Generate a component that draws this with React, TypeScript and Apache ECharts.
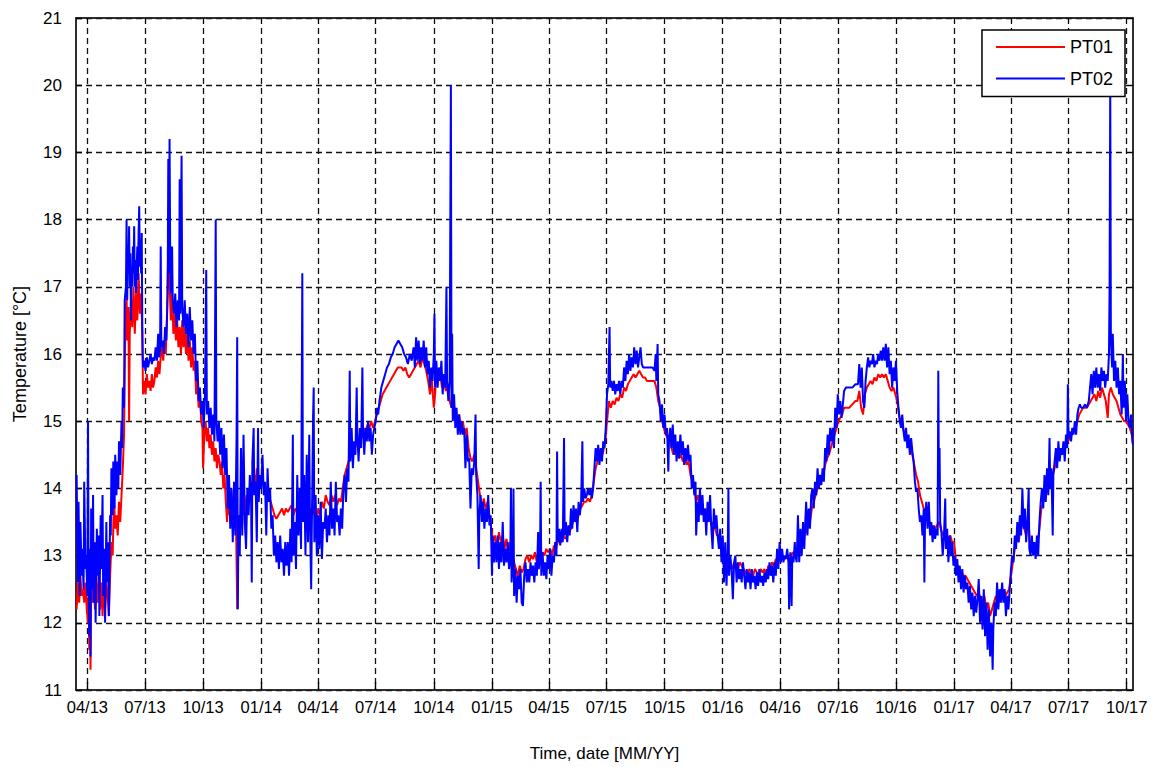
import React, { useEffect, useRef } from "react";
import * as echarts from "echarts";

// x = days since 2013-04-01
const tickDays = [0, 91, 183, 275, 365, 456, 548, 640, 730, 821, 913, 1005, 1096, 1187, 1279, 1371, 1461, 1552, 1644];
const tickLabels = ["04/13", "07/13", "10/13", "01/14", "04/14", "07/14", "10/14", "01/15", "04/15", "07/15", "10/15", "01/16", "04/16", "07/16", "10/16", "01/17", "04/17", "07/17", "10/17"];

const pt02: number[][] = [
  [-17,14.2],[-15,12.6],[-14,13.8],[-12,12.4],[-11,13.5],[-9,12.7],[-8,13.1],[-6,12.5],[-5,14.1],[-3,12.8],[-2,13.0],[0,12.4],[1,15.0],[2,12.6],[3,11.8],[4,13.1],[5,11.5],[6,13.7],[7,12.5],[9,13.9],[10,12.3],[12,13.2],[13,12.0],[15,13.4],[16,12.7],[18,13.3],[19,12.1],[21,13.6],[22,12.8],[24,13.9],[25,12.4],[27,13.1],[28,12.0],[30,13.5],[31,12.6],[33,13.2],[34,12.1],[36,13.6],[37,13.3],[38,14.3],[40,13.6],[41,14.4],[43,13.7],[44,14.5],[46,13.9],[47,14.4],[49,14.0],[50,14.7],[52,14.2],[54,15.0],[55,14.6],[56,15.5],[58,15.2],[59,16.8],
  [61,17.0],[62,18.0],[63,16.8],[64,17.6],[65,17.2],[66,17.9],[67,17.0],[68,17.5],[69,16.5],[70,17.3],[71,17.0],[72,17.6],[73,17.2],[74,17.9],[75,17.0],[76,17.4],[77,16.9],[78,17.3],[79,17.6],[80,17.1],[81,17.8],[82,18.2],[83,17.3],[84,17.7],[85,17.2],[86,17.8],[87,16.2],[88,15.8],
  [90,15.9],[92,15.75],[94,15.95],[96,15.8],[98,15.9],[100,16.0],[102,15.85],[104,15.95],[106,15.9],[108,16.1],[110,15.9],[112,16.3],[113,15.95],[115,16.05],[116,17.6],[117,16.1],[119,16.2],[121,16.0],[123,16.4],[125,16.2],[127,16.9],[128,18.9],[129,17.2],[130,19.2],[131,17.5],[132,16.9],[134,17.6],[135,16.8],[137,16.6],[139,16.9],[141,16.4],[143,16.8],[145,16.5],[146,18.6],[147,16.6],[149,18.95],[150,16.7],[152,16.4],[154,16.8],[156,16.3],[158,16.6],[160,16.1],[162,16.7],[164,16.2],[166,16.5],[168,16.0],[170,16.3],[172,15.6],[174,15.9],[176,15.3],[178,15.5],[180,15.1],[182,15.3],[184,14.9],[186,15.4],[188,17.25],[189,15.1],[191,15.3],[193,14.9],[195,15.2],[197,14.8],[199,15.1],[201,14.7],[203,18.0],[204,15.0],[206,14.7],[208,15.0],[210,14.5],[212,14.9],[214,14.3],[216,14.8],[218,14.2],[220,14.6],[222,13.7],[224,14.2],[226,13.4],[228,14.0],[230,13.2],[232,14.1],[234,13.3],[236,14.8],[237,16.25],[238,12.2],[239,13.6],[241,13.0],[243,14.6],[245,13.3],[247,14.8],[249,13.5],[251,13.1],[253,14.0],[255,13.6],[257,14.2],[259,13.8],[260,12.6],[261,14.4],[263,14.9],[264,13.9],
  [266,14.1],[268,13.2],[270,14.9],[271,13.8],[273,14.2],[275,14.0],[277,14.5],[279,13.9],[281,14.1],[283,13.3],[285,14.3],[287,13.8],[289,14.0],[291,13.4],[293,13.6],[295,13.0],[297,13.3],[299,12.9],[301,13.2],[303,12.8],[305,13.3],[307,12.9],[309,13.1],[311,12.7],[313,13.2],[315,12.85],[317,13.2],[319,12.7],[321,13.4],[323,12.9],[325,14.8],[326,13.0],[328,13.5],[330,12.8],[332,14.2],[334,13.3],[336,14.0],[338,13.1],[340,17.2],[341,13.5],[343,14.2],[345,13.0],[347,14.5],[349,13.2],[351,14.8],[352,13.6],[354,12.5],[355,13.4],[357,15.05],[358,15.5],[359,13.2],[361,13.9],[363,13.0],[365,13.6],[367,13.1],[369,13.8],[371,12.95],[373,13.5],
  [375,13.4],[377,13.7],[379,13.2],[381,13.6],[383,13.3],[385,14.1],[387,13.4],[389,13.7],[391,13.3],[393,14.1],[395,13.5],[397,13.6],[399,13.3],[401,13.7],[403,13.4],[405,14.0],[407,14.2],[409,13.8],[411,14.3],[413,14.1],[415,15.75],[416,14.4],[418,14.9],[420,14.3],[422,14.7],[424,14.5],[426,15.5],[427,14.8],[429,14.4],[431,14.9],[433,14.6],[435,15.8],[436,14.9],[438,14.5],[440,14.9],[442,14.7],[444,15.0],[446,14.7],[448,14.9],[450,14.5],[452,14.8],[454,14.9],[456,15.0],[458,15.2],[460,15.1],
  [462,15.3],[465,15.5],[468,15.6],[471,15.7],[474,15.8],[477,15.85],[480,15.95],[483,16.0],[486,16.1],[489,16.15],[492,16.2],[495,16.15],[498,16.1],[501,16.0],[504,15.95],[507,15.85],[510,16.0],[513,15.9],[516,16.1],[518,15.8],[520,16.25],[522,15.9],[524,16.2],[526,15.85],[528,16.1],[530,15.9],[532,16.2],[534,15.8],[536,16.1],[538,15.7],[540,15.9],[542,15.5],[544,15.8],[546,15.6],[548,16.0],[549,16.6],[550,15.5],[552,15.9],[554,15.5],[556,15.8],[558,15.6],[560,15.9],[562,15.4],[564,15.7],[566,15.5],[568,17.0],[569,15.6],[571,15.3],[573,15.6],[575,20.0],[576,15.2],[577,16.3],[578,15.0],[580,15.4],[582,14.9],[584,15.2],[586,14.8],[588,15.1],[590,14.8],[592,15.0],[594,14.8],[596,14.9],[598,14.3],[600,14.8],[602,14.4],[604,14.45],[606,13.7],[608,14.3],[610,14.2],[612,14.4],[614,15.1],[615,14.2],[617,13.9],[619,12.8],[620,13.6],[622,13.9],[624,13.5],[626,13.8],[628,13.4],[630,13.7],[632,13.5],[634,13.9],[636,13.45],[638,13.6],[640,12.7],[641,13.3],[643,12.9],[645,13.2],[647,12.9],[649,13.3],[651,12.8],[653,13.2],[655,12.9],[657,13.5],[659,12.85],[661,13.1],[663,12.9],[665,13.2],[667,12.8],[669,13.0],[670,14.0],[671,12.6],[673,12.9],[674,14.0],[675,12.4],[677,12.8],[679,12.3],[681,12.7],[683,12.5],[685,12.8],[687,12.3],[689,12.25],[691,12.7],[693,12.9],[695,12.6],[697,12.8],[699,12.6],[701,12.9],[703,12.7],[705,12.85],[707,12.6],[709,12.9],[711,12.7],[713,13.35],[714,12.8],[716,13.0],[717,14.1],[718,12.7],[720,13.05],[722,12.7],[724,12.9],[726,12.65],[728,13.0],[730,12.8],[732,13.1],[734,12.7],[736,13.0],[738,12.9],[740,13.2],[742,13.0],[743,14.55],[744,13.2],[746,13.4],[748,13.15],[750,13.4],[752,13.2],[754,14.75],[755,13.3],[757,13.5],[759,13.2],[761,13.45],[763,13.3],[765,13.7],[767,13.4],[769,13.75],[771,13.5],[773,13.7],[775,13.35],[777,13.8],[779,13.6],[781,13.8],[783,14.7],[784,13.8],[786,14.0],[788,13.85],[790,13.9],[792,14.0],[794,13.9],[796,14.0],[798,13.85],[800,14.0],[802,14.3],[804,14.6],[806,14.4],[808,14.65],[810,14.35],[812,14.6],[814,14.4],[816,14.7],[818,14.6],[820,14.9],[822,15.4],[824,15.55],[826,16.4],[827,15.5],[829,15.6],
  [831,15.45],[833,15.6],[835,15.4],[837,15.55],[839,15.45],[841,15.6],[843,15.4],[845,15.6],[847,15.5],[849,15.8],[851,15.6],[853,15.9],[855,15.7],[857,16.0],[859,15.75],[861,15.95],[863,15.8],[865,16.1],[867,15.85],[869,16.05],[871,15.8],[873,15.95],[875,16.1],[877,15.85],[879,15.8],[882,15.8],[885,15.8],[888,15.8],[891,15.8],[894,15.8],[897,15.75],[899,16.0],[900,15.6],[902,16.15],[903,15.4],[905,15.3],[907,15.0],[909,15.25],[911,14.9],[913,15.1],[915,14.8],[917,14.9],[919,14.25],[920,14.7],[922,14.9],[924,14.6],[926,14.95],[928,14.5],[930,14.8],[932,14.4],[934,14.7],[936,14.45],[938,14.8],[940,14.5],[942,14.7],[944,14.35],[946,14.6],[948,14.4],[950,14.65],[952,14.4],[954,14.5],[956,14.0],[958,14.2],[960,13.9],[962,14.1],[963,13.3],[965,13.8],[967,13.5],[969,14.0],[971,13.6],[973,13.9],[975,13.5],[977,13.7],[979,13.3],[981,13.8],[983,13.5],[985,13.9],[987,13.4],[989,13.1],[991,13.7],[993,13.4],[995,13.6],[997,13.3],[999,13.1],[1001,13.4],[1003,12.9],[1005,13.3],[1007,12.6],[1009,13.2],[1011,12.55],[1013,13.1],[1014,14.0],[1015,12.7],[1017,13.0],[1019,12.8],[1021,12.35],[1023,12.9],[1025,13.0],[1027,12.6],[1029,12.9],[1031,12.65],[1033,12.8],[1035,12.6],[1037,12.9],[1039,12.7],[1041,12.5],[1043,12.8],[1045,12.6],[1047,12.75],[1049,12.5],[1051,12.8],[1053,12.6],[1055,12.7],[1057,12.5],[1059,12.75],[1061,12.55],[1063,12.8],[1065,12.6],[1067,12.7],[1069,12.55],[1071,12.75],[1073,12.6],[1075,12.8],[1077,12.65],[1079,12.9],[1081,12.7],[1083,12.85],[1085,12.6],[1087,12.9],[1089,12.7],[1091,13.1],[1093,12.8],[1095,13.2],[1097,12.9],[1099,13.1],[1101,12.9],[1103,13.0],[1105,12.95],[1107,13.1],[1109,12.9],[1110,12.2],[1112,13.05],[1114,12.25],[1115,13.0],[1117,12.9],[1119,13.2],[1120,13.0],[1122,12.9],
  [1124,13.6],[1126,12.9],[1128,13.4],[1130,13.0],[1132,13.5],[1134,13.1],[1136,13.6],[1137,13.8],[1139,13.3],[1141,13.7],[1143,13.4],[1145,13.9],[1147,14.0],[1149,13.7],[1151,14.1],[1153,13.9],[1155,14.3],[1157,14.0],[1159,14.2],[1161,14.05],[1163,14.3],[1165,14.1],[1167,14.6],[1169,14.4],[1171,14.8],[1173,14.5],[1175,14.9],[1177,14.7],[1179,14.9],[1181,14.6],[1183,15.2],[1185,14.9],[1187,15.4],[1189,15.1],[1191,15.3],[1193,15.05],[1195,15.25],[1197,15.45],[1200,15.5],[1205,15.5],[1210,15.5],[1215,15.55],[1219,15.55],[1221,15.85],[1223,15.5],[1225,15.8],[1227,15.3],[1229,15.2],[1231,15.6],[1233,15.8],[1235,15.95],[1237,15.8],[1239,15.9],[1241,15.85],[1243,16.0],[1245,15.8],[1247,15.9],[1249,15.85],[1251,16.0],[1253,15.9],[1255,16.05],[1257,15.9],[1259,16.1],[1261,15.9],[1263,16.15],[1265,15.8],[1267,16.1],[1269,15.7],[1271,15.9],[1273,15.5],[1275,15.8],[1277,15.6],[1279,15.9],[1281,15.45],[1283,15.2],[1285,15.0],[1287,14.9],[1289,15.1],[1291,14.85],[1293,14.7],[1295,14.9],[1297,14.6],[1299,14.8],[1301,14.5],[1303,14.75],[1305,14.55],[1307,14.4],[1309,14.1],[1311,13.95],[1313,14.0],[1315,13.7],[1317,13.5],[1319,13.6],[1321,13.3],[1323,13.7],[1324,12.6],[1325,13.5],[1327,13.8],[1329,13.4],[1331,13.8],[1333,13.3],[1335,13.5],[1337,13.2],[1339,13.45],[1341,13.25],[1343,13.4],[1345,13.3],[1346,15.75],[1347,14.0],[1348,14.6],[1349,13.5],[1351,13.35],[1353,13.0],[1355,13.3],[1357,13.85],[1358,13.1],[1360,13.4],[1362,12.9],[1364,13.3],[1366,13.0],[1368,13.2],[1370,12.85],[1372,13.0],
  [1374,12.7],[1376,12.95],[1378,12.6],[1380,12.85],[1382,12.5],[1384,12.8],[1386,12.45],[1388,12.7],[1390,12.5],[1392,12.6],[1394,12.3],[1396,12.55],[1398,12.2],[1400,12.45],[1402,12.1],[1404,12.4],[1406,12.15],[1408,12.35],[1410,12.65],[1412,12.0],[1414,12.4],[1416,11.9],[1418,12.5],[1420,11.8],[1422,12.3],[1424,11.6],[1426,12.2],[1428,11.5],[1430,12.0],[1432,11.3],[1433,11.9],[1435,12.3],[1437,12.1],[1439,12.6],[1441,12.2],[1443,12.5],[1445,12.3],[1447,12.6],[1449,12.3],[1451,12.5],[1453,12.1],[1455,12.4],[1457,12.2],[1459,12.5],[1461,12.8],[1463,13.0],[1465,12.9],[1467,13.3],[1469,13.1],[1471,13.5],[1473,13.2],[1475,13.6],[1477,13.3],[1479,14.0],[1481,13.4],[1483,13.7],[1485,13.2],[1487,13.5],[1489,14.0],[1490,13.1],[1492,13.0],[1494,13.3],[1496,13.0],[1498,13.2],[1500,12.95],[1502,13.3],[1504,13.0],[1506,13.5],[1508,13.8],[1510,14.0],[1512,13.7],[1514,14.2],[1516,13.8],[1518,14.3],[1520,13.9],[1522,14.75],[1523,14.0],[1525,14.3],[1527,13.3],[1528,14.2],[1530,14.4],[1532,14.6],[1534,14.3],[1536,14.7],[1538,14.4],[1540,14.6],[1542,14.5],[1544,14.7],[1546,14.4],[1548,14.8],[1550,14.6],[1551,15.55],[1552,14.75],[1554,14.85],[1556,14.7],[1558,14.9],[1560,14.8],[1562,15.0],[1564,14.8],[1566,15.1],[1568,15.2],[1570,15.25],[1572,15.2],[1575,15.2],[1578,15.25],[1581,15.2],[1584,15.3],[1586,15.5],[1588,15.7],[1590,15.4],[1592,15.75],[1594,15.5],[1596,15.8],[1598,15.5],[1600,15.7],[1602,15.45],[1604,15.8],[1606,15.6],[1608,15.75],[1610,15.5],[1612,15.7],[1614,15.6],[1616,16.0],[1617,17.0],[1618,20.05],[1619,16.2],[1621,15.8],[1622,16.3],[1624,15.6],[1626,15.9],[1628,15.5],[1630,15.8],[1632,15.4],[1634,15.6],[1636,15.1],[1638,16.0],[1639,15.2],[1641,15.6],[1643,15.0],[1645,15.4],[1647,15.0],[1649,14.9],[1651,15.1],[1653,14.7],[1654,14.65]
];

const pt01: number[][] = [
  [-17,12.2],[-15,12.6],[-13,12.3],[-11,12.7],[-9,12.4],[-7,12.5],[-5,12.3],[-3,12.6],[-1,12.2],[1,12.0],[2,12.5],[3,11.6],[4,12.2],[5,11.3],[6,12.6],[8,12.3],[10,12.7],[12,12.2],[14,12.6],[16,12.3],[18,12.8],[20,12.2],[22,12.6],[24,12.1],[26,12.5],[28,12.2],[30,12.6],[32,12.4],[34,12.1],[36,12.7],[38,13.2],[40,13.0],[42,13.9],[44,13.4],[46,13.6],[48,13.3],[50,13.8],[52,13.5],[54,13.9],[56,14.3],[58,14.8],[60,16.4],[62,16.9],[63,16.2],[65,16.7],[66,15.0],[67,16.3],[69,16.8],[71,16.4],[73,17.0],[75,16.3],[77,16.9],[79,16.5],[81,17.2],[83,16.6],[85,16.9],[87,16.3],[88,15.4],[90,15.6],[92,15.4],[94,15.7],[96,15.5],[98,15.6],[100,15.45],[102,15.7],[104,15.5],[106,15.6],[108,15.8],[110,15.65],[112,15.9],[114,15.7],[116,15.95],[118,16.1],[120,15.9],[122,16.2],[124,16.0],[126,16.6],[128,17.6],[130,17.1],[132,16.5],[134,16.9],[136,16.3],[138,16.6],[140,16.2],[142,16.5],[144,16.1],[146,16.4],[148,16.0],[150,16.5],[152,16.1],[154,16.4],[156,16.0],[158,16.3],[160,15.9],[162,16.2],[164,15.8],[166,16.1],[168,15.75],[170,15.9],[172,15.4],[174,15.6],[176,15.2],[178,15.4],[180,15.0],[182,14.9],[183,14.3],[185,14.8],[187,15.0],[189,14.7],[191,14.9],[193,14.6],[195,14.8],[197,14.5],[199,14.7],[201,14.4],[203,14.6],[205,14.3],[207,14.5],[209,14.4],[211,14.2],[213,14.4],[215,14.0],[217,14.2],[219,13.8],[221,13.5],[223,13.9],[225,13.6],[227,13.8],[229,13.5],[231,13.7],[233,13.5],[235,13.6],[237,12.2],[238,13.3],[240,13.6],[242,13.4],[244,13.8],[246,13.6],[248,13.9],[250,13.6],[252,13.9],[254,13.7],[256,14.0],[258,13.8],[260,14.1],[262,14.0],[264,14.2],[266,14.0],[268,14.3],[270,14.1],[272,14.2],
  [275,14.05],[278,14.1],[281,14.0],[284,13.95],[287,13.9],[290,13.8],[293,13.7],[296,13.6],[299,13.55],[302,13.6],[305,13.65],[308,13.7],[311,13.6],[314,13.7],[317,13.65],[320,13.7],[323,13.75],[326,13.6],[329,13.7],[332,13.65],[335,13.8],[338,13.5],[341,13.7],[344,13.6],[347,13.8],[350,13.5],[353,13.7],[356,13.6],[359,13.75],[362,13.5],[365,13.7],[368,13.6],[371,13.8],[374,13.7],[377,13.9],[380,13.8],[383,13.75],[386,13.9],[389,13.8],[392,13.9],[395,13.75],[398,13.85],[401,13.8],[404,14.0],[407,14.2],[410,14.3],[413,14.4],[416,14.5],[419,14.6],[422,14.55],[425,14.7],[428,14.6],[431,14.8],[434,14.75],[437,14.9],[440,14.8],[443,14.95],[446,14.9],[449,15.0],[452,14.9],[455,15.0],[458,15.1],[461,15.2],[464,15.3],[467,15.4],[470,15.45],[473,15.5],[476,15.55],[479,15.6],[482,15.65],[485,15.7],[488,15.75],[491,15.8],[494,15.8],[497,15.8],[500,15.75],[503,15.8],[506,15.7],[509,15.65],[512,15.7],[515,15.75],[518,15.8],[521,15.85],[524,15.9],[527,15.8],[530,15.95],[533,15.85],[536,15.75],[539,15.6],[542,15.4],[545,15.6],[548,15.2],[550,15.4],[552,15.7],[555,15.6],[558,15.7],[561,15.5],[564,15.6],[567,15.45],[570,15.55],[573,15.3],[576,15.2],[579,15.3],[582,15.1],[585,15.0],[588,15.1],[591,14.9],[594,15.0],[597,14.8],[600,14.9],[603,14.6],[606,14.45],[609,14.4],[612,14.5],[615,14.3],[618,14.1],[621,13.9],[624,13.7],[627,13.85],[630,13.7],[633,13.8],[636,13.6],[639,13.4],[642,13.2],[645,13.3],[648,13.1],[651,13.35],[654,13.2],[657,13.3],[660,13.1],[663,13.25],[666,13.05],[669,13.2],[672,13.0],[675,12.9],[678,12.8],[681,12.7],[684,12.85],[687,12.75],[690,12.8],[693,12.95],[696,13.0],[699,12.9],[702,13.0],[705,12.95],[708,13.05],[711,12.9],[714,13.0],[717,12.95],[720,13.05],[723,13.0],[726,13.1],[729,13.05],[732,13.1],[735,13.0],[738,13.15],[741,13.1],[744,13.2],[747,13.25],[750,13.2],[753,13.3],[756,13.25],[759,13.3],[762,13.35],[765,13.4],[768,13.5],[771,13.55],[774,13.5],[777,13.6],[780,13.7],[783,13.75],[786,13.8],[789,13.8],[792,13.85],[795,13.8],[798,13.9],[801,14.1],[804,14.3],[807,14.4],[810,14.5],[813,14.45],[816,14.55],[819,14.7],[822,15.0],[825,15.3],[828,15.2],
  [831,15.3],[834,15.25],[837,15.35],[840,15.3],[843,15.4],[846,15.35],[849,15.5],[852,15.45],[855,15.55],[858,15.6],[861,15.65],[864,15.7],[867,15.65],[870,15.7],[873,15.75],[876,15.7],[879,15.65],[882,15.65],[885,15.6],[888,15.6],[891,15.6],[894,15.6],[897,15.6],[900,15.5],[903,15.3],[906,15.2],[909,15.0],[912,14.9],[915,14.8],[918,14.75],[921,14.8],[924,14.6],[927,14.5],[930,14.6],[933,14.5],[936,14.45],[939,14.5],[942,14.4],[945,14.45],[948,14.35],[951,14.4],[954,14.2],[957,14.1],[960,14.0],[963,13.8],[966,13.9],[969,13.7],[972,13.8],[975,13.6],[978,13.7],[981,13.5],[984,13.6],[987,13.45],[990,13.5],[993,13.4],[996,13.3],[999,13.3],[1002,13.2],[1005,13.1],[1008,13.0],[1011,12.9],[1014,13.0],[1017,12.9],[1020,12.8],[1023,12.9],[1026,12.85],[1029,12.8],[1032,12.9],[1035,12.85],[1038,12.8],[1041,12.75],[1044,12.7],[1047,12.8],[1050,12.75],[1053,12.7],[1056,12.8],[1059,12.75],[1062,12.7],[1065,12.8],[1068,12.75],[1071,12.8],[1074,12.7],[1077,12.85],[1080,12.8],[1083,12.9],[1086,12.85],[1089,12.95],[1092,12.9],[1095,13.0],[1098,12.95],[1101,13.0],[1104,12.95],[1107,13.0],[1110,12.9],[1113,13.0],[1116,13.05],[1119,13.0],[1122,13.1],[1125,13.05],[1128,13.2],[1131,13.15],[1134,13.3],[1137,13.35],[1140,13.45],[1143,13.5],[1146,13.7],[1149,13.8],[1152,13.9],[1155,14.0],[1158,14.05],[1161,14.1],[1164,14.2],[1167,14.35],[1170,14.45],[1173,14.5],[1176,14.6],[1179,14.7],[1182,14.8],[1185,14.9],[1188,15.0],[1191,15.05],[1194,15.1],[1197,15.2],[1200,15.2],[1205,15.2],[1210,15.25],[1215,15.3],[1218,15.3],[1221,15.45],[1224,15.2],[1227,15.1],[1230,15.4],[1233,15.5],[1236,15.55],[1239,15.6],[1242,15.55],[1245,15.65],[1248,15.6],[1251,15.7],[1254,15.65],[1257,15.7],[1260,15.65],[1263,15.7],[1266,15.6],[1269,15.5],[1272,15.45],[1275,15.5],[1278,15.4],[1281,15.3],[1284,15.1],[1287,14.95],[1290,14.9],[1293,14.8],[1296,14.75],[1299,14.65],[1302,14.6],[1305,14.5],[1308,14.35],[1311,14.2],[1314,14.1],[1317,13.9],[1320,13.8],[1323,13.7],[1326,13.6],[1329,13.55],[1332,13.5],[1335,13.45],[1338,13.4],[1341,13.4],[1344,13.45],[1347,13.5],[1350,13.4],[1353,13.3],[1356,13.35],[1359,13.3],[1362,13.25],[1365,13.3],[1368,13.2],[1371,13.2],
  [1374,12.9],[1377,12.85],[1380,12.8],[1383,12.75],[1386,12.7],[1389,12.7],[1392,12.65],[1395,12.6],[1398,12.55],[1401,12.5],[1404,12.45],[1407,12.4],[1410,12.45],[1413,12.35],[1416,12.3],[1419,12.4],[1422,12.2],[1425,12.3],[1428,12.1],[1431,12.2],[1434,12.3],[1437,12.4],[1440,12.3],[1443,12.45],[1446,12.4],[1449,12.5],[1452,12.4],[1455,12.45],[1458,12.5],[1461,12.7],[1464,12.9],[1467,13.1],[1470,13.3],[1473,13.2],[1476,13.4],[1479,13.5],[1482,13.4],[1485,13.3],[1488,13.6],[1491,13.2],[1494,13.1],[1497,13.2],[1500,13.05],[1503,13.2],[1506,13.4],[1509,13.7],[1512,13.8],[1515,13.9],[1518,14.0],[1521,14.1],[1524,14.2],[1527,14.2],[1530,14.3],[1533,14.4],[1536,14.5],[1539,14.5],[1542,14.55],[1545,14.6],[1548,14.65],[1551,14.7],[1554,14.75],[1557,14.8],[1560,14.85],[1563,14.9],[1566,15.0],[1569,15.1],[1572,15.15],[1575,15.2],[1578,15.2],[1581,15.2],[1584,15.25],[1587,15.3],[1590,15.35],[1593,15.4],[1596,15.3],[1599,15.45],[1602,15.35],[1605,15.5],[1608,15.4],[1611,15.3],[1614,15.05],[1616,15.4],[1619,15.5],[1622,15.4],[1625,15.35],[1628,15.3],[1631,15.2],[1634,15.1],[1637,15.05],[1640,15.0],[1643,15.0],[1646,14.95],[1649,14.9],[1652,14.8],[1654,14.7]
];

const FONT = "Liberation Sans, Arial, sans-serif";
const dash = [6, 4];

export default function App() {
  const ref = useRef<HTMLDivElement>(null);
  useEffect(() => {
    if (!ref.current) return;
    const chart = echarts.init(ref.current, undefined, { renderer: "svg" });
    const labelFor = (v: number) => {
      const i = tickDays.indexOf(Math.round(v));
      return i >= 0 ? tickLabels[i] : "";
    };
    chart.setOption({
      animation: false,
      backgroundColor: "#fff",
      textStyle: { fontFamily: FONT },
      grid: { left: 76, right: 19, top: 18, bottom: 77, show: true, borderColor: "#222", borderWidth: 1.5, backgroundColor: "transparent" },
      legend: {
        orient: "vertical",
        right: 27,
        top: 30,
        backgroundColor: "#fff",
        borderColor: "#000",
        borderWidth: 1.5,
        borderRadius: 0,
        padding: [8, 12, 9, 14],
        itemWidth: 69,
        itemHeight: 2,
        itemGap: 13.6,
        icon: "rect",
        textStyle: { fontSize: 18, lineHeight: 18, color: "#000", fontFamily: FONT },
        data: ["PT01", "PT02"],
        z: 10,
      },
      xAxis: [
        {
          type: "value",
          min: -18,
          max: 1654,
          name: "Time, date [MM/YY]",
          nameLocation: "middle",
          nameGap: 55,
          nameTextStyle: { fontSize: 17, color: "#000", fontFamily: FONT },
          axisLine: { show: true, onZero: false, lineStyle: { color: "#222", width: 1.5 } },
          axisTick: { show: true, inside: true, length: 8, customValues: tickDays, lineStyle: { color: "#000", width: 1.4 } },
          axisLabel: { customValues: tickDays, formatter: labelFor, fontSize: 16.5, color: "#000", margin: 8, fontFamily: FONT },
          splitLine: { show: true, lineStyle: { color: "#111", type: dash, width: 1.3 } },
        },
        {
          type: "value",
          position: "top",
          min: -18,
          max: 1654,
          axisLine: { show: true, onZero: false, lineStyle: { color: "#222", width: 1.5 } },
          axisTick: { show: true, inside: true, length: 6, customValues: tickDays, lineStyle: { color: "#000" } },
          axisLabel: { show: false },
          splitLine: { show: false },
        },
      ],
      yAxis: [
        {
          type: "value",
          min: 11,
          max: 21,
          interval: 1,
          name: "Temperature [°C]",
          nameLocation: "middle",
          nameGap: 47,
          nameTextStyle: { fontSize: 18, color: "#000", fontFamily: FONT },
          axisLine: { show: true, onZero: false, lineStyle: { color: "#222", width: 1.5 } },
          axisTick: { show: true, inside: true, length: 6, lineStyle: { color: "#000", width: 1.4 } },
          axisLabel: { fontSize: 17, color: "#000", margin: 14, fontFamily: FONT },
          splitLine: { show: true, lineStyle: { color: "#111", type: dash, width: 1.3 } },
        },
        {
          type: "value",
          position: "right",
          min: 11,
          max: 21,
          interval: 1,
          axisLine: { show: true, onZero: false, lineStyle: { color: "#222", width: 1.5 } },
          axisTick: { show: true, inside: true, length: 6, lineStyle: { color: "#000" } },
          axisLabel: { show: false },
          splitLine: { show: false },
        },
      ],
      series: [
        {
          name: "PT01",
          type: "line",
          data: pt01,
          showSymbol: false,
          symbol: "none",
          color: "#ff0000",
          lineStyle: { color: "#ff0000", width: 2 },
          z: 2,
        },
        {
          name: "PT02",
          type: "line",
          data: pt02,
          showSymbol: false,
          symbol: "none",
          color: "#0000ff",
          lineStyle: { color: "#0000ff", width: 2 },
          z: 3,
        },
      ],
    });
    return () => chart.dispose();
  }, []);
  return <div ref={ref} style={{ position: "fixed", left: 0, top: 0, width: 1152, height: 767 }} />;
}
